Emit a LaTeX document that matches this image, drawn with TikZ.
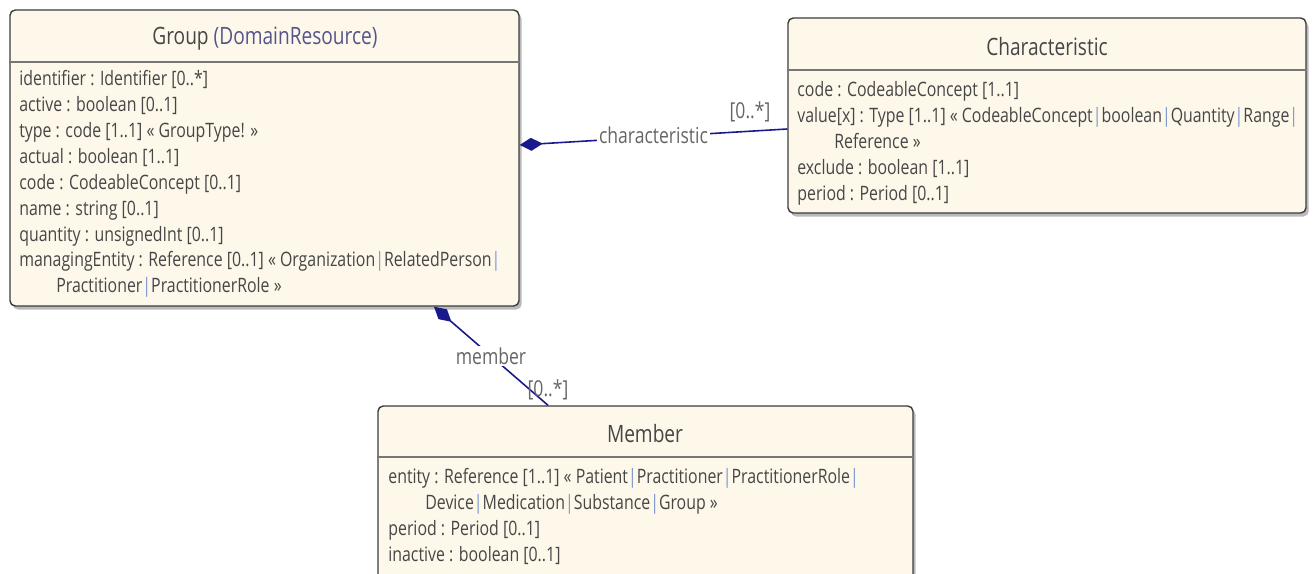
\documentclass[tikz,border=0pt]{standalone}
\usepackage{fontspec}
\setmainfont{Open Sans}[FakeStretch=0.8]
\usetikzlibrary{arrows.meta,positioning,calc,fit,shadows}
\definecolor{umlfill}{RGB}{254,248,235}
\definecolor{umledge}{RGB}{60,60,60}
\definecolor{linkblue}{RGB}{25,25,140}
\definecolor{textgray}{RGB}{70,70,70}
\definecolor{pipeblue}{RGB}{120,150,205}
\definecolor{parentblue}{RGB}{85,85,140}
\newcommand{\vb}{{\color{pipeblue}|}}
\newcommand{\contind}{\hspace*{0.74cm}}
\tikzset{
  classbox/.style={
    draw=umledge,line width=0.8pt,rounded corners=3pt,fill=umlfill,inner sep=0pt,
    drop shadow={shadow xshift=1.5pt,shadow yshift=-2pt,opacity=0.45,fill=black!60}
  },
  classtitle/.style={font=\fontsize{13.6}{16}\selectfont,text=textgray,inner sep=0pt},
  attrlist/.style={
    align=left,anchor=north west,inner sep=0pt,text=textgray,
    font=\fontsize{11.3}{14.75}\selectfont
  },
  headrule/.style={draw=umledge!70,line width=0.8pt},
  compline/.style={{Diamond[length=4.6mm,width=2.6mm]}-,draw=linkblue,line width=0.9pt},
  rolelabel/.style={text=black!60,font=\fontsize{12.5}{14}\selectfont,inner sep=1pt}
}
\begin{document}
\begin{tikzpicture}[x=0.02cm,y=-0.02cm]
  \useasboundingbox (0,0) rectangle (1315,574);
  % Group
  \node[classbox,fit={(10,10) (519,306)}] (group) {};
  \draw[headrule] (group.west |- 0,62) -- (group.east |- 0,62);
  \node[classtitle] (grouptitle) at (265,39) {Group \textcolor{parentblue}{(DomainResource)}};
  \node[attrlist] (groupattrs) at (19,70) {
    identifier : Identifier [0..*]\\
    active : boolean [0..1]\\
    type : code [1..1] « GroupType! »\\
    actual : boolean [1..1]\\
    code : CodeableConcept [0..1]\\
    name : string [0..1]\\
    quantity : unsignedInt [0..1]\\
    managingEntity : Reference [0..1] « Organization\vb RelatedPerson\vb\\
    \contind Practitioner\vb PractitionerRole »
  };
  % Characteristic
  \node[classbox,fit={(788,18) (1306,213)}] (charc) {};
  \draw[headrule] (charc.west |- 0,70) -- (charc.east |- 0,70);
  \node[classtitle] (charctitle) at (1047,47) {Characteristic};
  \node[attrlist] (charcattrs) at (797,81) {
    code : CodeableConcept [1..1]\\
    value[x] : Type [1..1] « CodeableConcept\vb boolean\vb Quantity\vb Range\vb\\
    \contind Reference »\\
    exclude : boolean [1..1]\\
    period : Period [0..1]
  };
  % Member
  \node[classbox,fit={(378,406) (913,600)}] (member) {};
  \draw[headrule] (member.west |- 0,457) -- (member.east |- 0,457);
  \node[classtitle] (membertitle) at (645,434) {Member};
  \node[attrlist] (memberattrs) at (388,468) {
    entity : Reference [1..1] « Patient\vb Practitioner\vb PractitionerRole\vb\\
    \contind Device\vb Medication\vb Substance\vb Group »\\
    period : Period [0..1]\\
    inactive : boolean [0..1]
  };
  % associations
  \draw[compline] (group.east |- 0,145) -- node[rolelabel,fill=white,yshift=1pt] (charrole) {characteristic} (charc.west |- 0,129);
  \node[rolelabel] (charmult) at (750,112) {[0..*]};
  \draw[compline] (group.south -| 434,0) -- node[rolelabel,fill=white] (memberrole) {member} (member.north -| 548,0);
  \node[rolelabel] (membermult) at (548,390) {[0..*]};
\end{tikzpicture}
\end{document}
